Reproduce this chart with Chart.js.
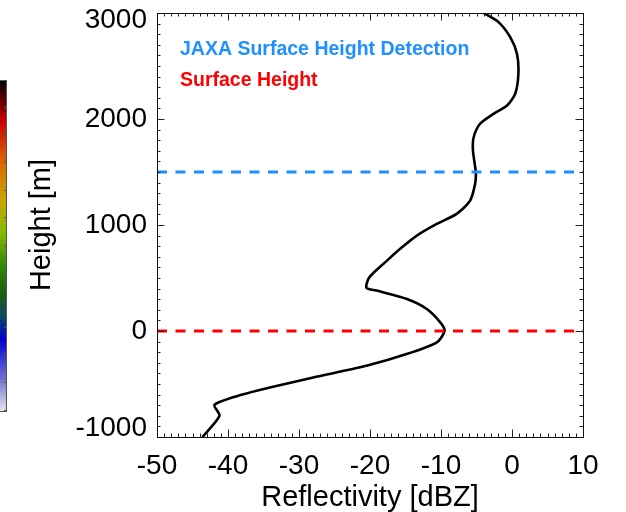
<!DOCTYPE html>
<html>
<head>
<meta charset="utf-8">
<script src="https://cdn.jsdelivr.net/npm/chart.js@4/dist/chart.umd.min.js"></script>
<style>
  html, body { margin: 0; padding: 0; background: #ffffff; }
  canvas { display: block; }
</style>
</head>
<body>
<canvas id="profile" width="626" height="512"></canvas>
<script>
// Vertical reflectivity profile (bottom to top)
const heightM = [
  -1000, -800, -696, -602, -533, -438, -328, -208, -108, 0,
  81, 208, 302, 381, 406, 506, 664, 789, 900, 1010,
  1105, 1230, 1388, 1498, 1703, 1828, 1955, 2049, 2127, 2238,
  2427, 2616, 2772, 2914, 3000
];
const reflectivityDbz = [
  -43.6, -41.2, -41.9, -38.1, -34.1, -28.0, -20.5, -14.4, -10.6, -9.5,
  -10.1, -12.0, -14.8, -19.1, -20.5, -20.1, -17.6, -15.5, -13.4, -10.6,
  -7.8, -5.9, -5.2, -5.1, -5.5, -5.4, -4.5, -2.6, -0.7, 0.45,
  0.9, 0.7, -0.25, -1.9, -4.0
];

// Reference heights (m)
const jaxaSurfaceHeight = 1500;
const surfaceHeight = 0;

// Axis ranges and tick steps
const xRange = [-50, 10];
const yRange = [-1000, 3000];
const xMajorStep = 10, xMinorStep = 1;
const yMajorStep = 1000, yMinorStep = 100;

const FONT = '"Liberation Sans", Arial, Helvetica, sans-serif';

const profile = heightM.map((h, i) => ({ x: reflectivityDbz[i], y: h }));
const levelLine = h => [{ x: xRange[0], y: h }, { x: xRange[1], y: h }];

// Partial colour bar at the far left edge
const colorBar = {
  id: 'colorBar',
  beforeDraw(chart) {
    const c = chart.ctx;
    const top = 80, bottom = 412, w = 6;
    const g = c.createLinearGradient(0, top, 0, bottom);
    g.addColorStop(0.00, '#000000');
    g.addColorStop(0.05, '#4a0000');
    g.addColorStop(0.12, '#c40000');
    g.addColorStop(0.25, '#d86a00');
    g.addColorStop(0.36, '#c8a800');
    g.addColorStop(0.46, '#88b800');
    g.addColorStop(0.56, '#2f8a00');
    g.addColorStop(0.65, '#1b5a10');
    g.addColorStop(0.71, '#0a4a60');
    g.addColorStop(0.78, '#0000c8');
    g.addColorStop(0.90, '#7070d0');
    g.addColorStop(1.00, '#e8e8ee');
    c.save();
    c.fillStyle = g;
    c.fillRect(0, top, w, bottom - top);
    c.strokeStyle = '#555';
    c.lineWidth = 1;
    c.beginPath();
    c.moveTo(w + 0.5, top);
    c.lineTo(w + 0.5, bottom);
    c.moveTo(0, top + 0.5);
    c.lineTo(w, top + 0.5);
    c.moveTo(0, bottom - 0.5);
    c.lineTo(w, bottom - 0.5);
    for (let y = top + 27; y < bottom; y += 27.5) {
      c.moveTo(w - 2, Math.round(y) + 0.5);
      c.lineTo(w, Math.round(y) + 0.5);
    }
    c.stroke();
    c.restore();
  }
};

// Keep the end labels of the height axis inside the frame
const yEndLabels = {
  id: 'yEndLabels',
  beforeDraw(chart) {
    const items = chart.scales.y.getLabelItems();
    if (!items.length || items._nudged) return;
    items[0].options.translation[1] -= 9;
    items[items.length - 1].options.translation[1] += 7;
    items._nudged = true;
  }
};

// Box frame with inward major/minor ticks on all four sides
const frameTicks = {
  id: 'frameTicks',
  afterDraw(chart) {
    const c = chart.ctx;
    const a = chart.chartArea;
    const xs = chart.scales.x, ys = chart.scales.y;
    c.save();
    c.strokeStyle = '#222';
    c.lineWidth = 1;
    c.beginPath();
    for (let v = xRange[0]; v <= xRange[1] + 1e-9; v += xMinorStep) {
      const px = Math.round(xs.getPixelForValue(v)) + 0.5;
      const len = Math.abs(Math.round(v) % xMajorStep) === 0 ? 7.5 : 3.5;
      c.moveTo(px, a.bottom); c.lineTo(px, a.bottom - len);
      c.moveTo(px, a.top); c.lineTo(px, a.top + len);
    }
    for (let v = yRange[0]; v <= yRange[1] + 1e-9; v += yMinorStep) {
      const py = Math.round(ys.getPixelForValue(v)) + 0.5;
      const len = Math.abs(Math.round(v) % yMajorStep) === 0 ? 7.5 : 3.5;
      c.moveTo(a.left, py); c.lineTo(a.left + len, py);
      c.moveTo(a.right, py); c.lineTo(a.right - len, py);
    }
    c.stroke();
    c.strokeStyle = '#111';
    c.strokeRect(Math.round(a.left) + 0.5, Math.round(a.top) + 0.5,
                 Math.round(a.right - a.left), Math.round(a.bottom - a.top));
    c.restore();
  }
};

// Coloured key text for the two reference lines
const levelKey = {
  id: 'levelKey',
  afterDraw(chart) {
    const c = chart.ctx;
    const a = chart.chartArea;
    c.save();
    c.font = 'bold 19.5px ' + FONT;
    c.textAlign = 'left';
    c.textBaseline = 'alphabetic';
    [1, 2].forEach((di, k) => {
      const ds = chart.data.datasets[di];
      c.fillStyle = ds.borderColor;
      c.fillText(ds.label, a.left + 23, a.top + 42 + k * 31);
    });
    c.restore();
  }
};

new Chart(document.getElementById('profile'), {
  type: 'scatter',
  data: {
    datasets: [
      {
        label: 'Reflectivity',
        data: profile,
        showLine: true,
        borderColor: '#000000',
        borderWidth: 2.6,
        pointRadius: 0,
        tension: 0.25,
        order: 2
      },
      {
        label: 'JAXA Surface Height Detection',
        data: levelLine(jaxaSurfaceHeight),
        showLine: true,
        borderColor: '#1e90ff',
        borderWidth: 3,
        borderDash: [10, 8.5],
        pointRadius: 0,
        order: 1
      },
      {
        label: 'Surface Height',
        data: levelLine(surfaceHeight),
        showLine: true,
        borderColor: '#ff0000',
        borderWidth: 3,
        borderDash: [10, 8.5],
        pointRadius: 0,
        order: 1
      }
    ]
  },
  options: {
    responsive: false,
    animation: false,
    devicePixelRatio: 1,
    layout: { padding: { top: 13, right: 43, left: 0, bottom: 0 } },
    plugins: { legend: { display: false }, tooltip: { enabled: false } },
    scales: {
      x: {
        type: 'linear',
        min: xRange[0],
        max: xRange[1],
        grid: { display: false, drawTicks: false },
        border: { display: false },
        ticks: {
          stepSize: xMajorStep,
          color: '#000',
          font: { family: FONT, size: 28 },
          padding: 12,
          maxRotation: 0,
          callback: v => String(v)
        },
        title: {
          display: true,
          text: 'Reflectivity [dBZ]',
          color: '#000',
          font: { family: FONT, size: 29, lineHeight: 1 },
          padding: 0
        },
        afterFit(s) { s.height = 75; s.paddingLeft = 0; s.paddingRight = 0; }
      },
      y: {
        type: 'linear',
        min: yRange[0],
        max: yRange[1],
        grid: { display: false, drawTicks: false },
        border: { display: false },
        ticks: {
          stepSize: yMajorStep,
          color: '#000',
          font: { family: FONT, size: 28 },
          padding: 10,
          callback: v => String(v)
        },
        title: {
          display: true,
          text: 'Height [m]',
          color: '#000',
          font: { family: FONT, size: 29, lineHeight: 1 },
          padding: { top: 27, bottom: 0 }
        },
        afterFit(s) { s.width = 157; s.paddingTop = 0; s.paddingBottom = 0; }
      }
    }
  },
  plugins: [colorBar, yEndLabels, frameTicks, levelKey]
});
</script>
</body>
</html>
